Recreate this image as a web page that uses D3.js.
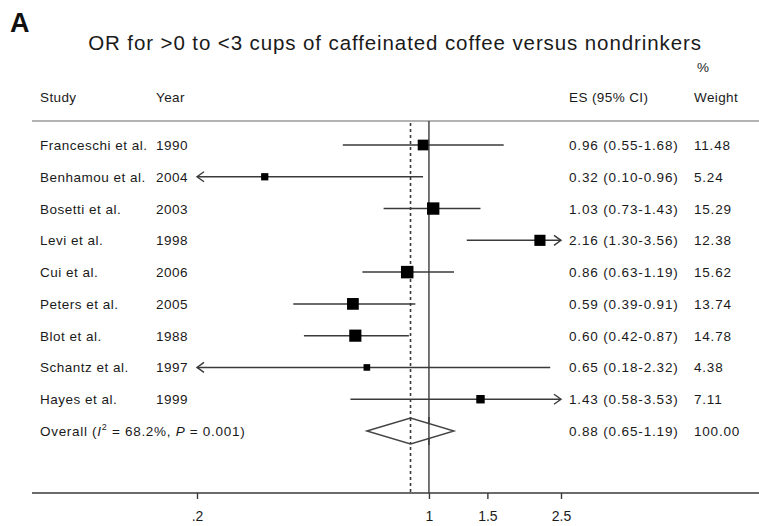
<!DOCTYPE html>
<html><head><meta charset="utf-8">
<script src="https://cdnjs.cloudflare.com/ajax/libs/d3/7.8.5/d3.min.js"></script>
<style>
html,body{margin:0;padding:0;background:#fff;}
svg{display:block;font-family:"Liberation Sans",Arial,sans-serif;}
</style></head>
<body>
<svg id="chart" width="759" height="526"></svg>
<script>
const studies = ["Franceschi et al.","Benhamou et al.","Bosetti et al.","Levi et al.","Cui et al.","Peters et al.","Blot et al.","Schantz et al.","Hayes et al."];
const years = ["1990","2004","2003","1998","2006","2005","1988","1997","1999"];
const es = [0.96,0.32,1.03,2.16,0.86,0.59,0.60,0.65,1.43];
const lo = [0.55,0.10,0.73,1.30,0.63,0.39,0.42,0.18,0.58];
const hi = [1.68,0.96,1.43,3.56,1.19,0.91,0.87,2.32,3.53];
const weights = [11.48,5.24,15.29,12.38,15.62,13.74,14.78,4.38,7.11];
const overall = {es:0.88, lo:0.65, hi:1.19, weight:100.00, i2:"68.2%", p:"0.001"};
const tickValues = [0.2,1,1.5,2.5];
const tickLabels = [".2","1","1.5","2.5"];
const title = "OR for >0 to <3 cups of caffeinated coffee versus nondrinkers";

const svg = d3.select("#chart");
const x = d3.scaleLog().domain([0.2,2.5]).range([197,561]);
const y = d3.scaleLinear().domain([0,9]).range([145,431]);
const box = d3.scaleSqrt().domain([0,15.62]).range([0,12.5]);
const fmt = d3.format(".2f");
const axisY = 493, topY = 121;
const txt = "#1a1a1a", ln = "#3a3a3a";

svg.append("text").attr("x",10).attr("y",32).attr("font-size",27).attr("font-weight","bold").attr("fill","#111").text("A");
svg.append("text").attr("x",395).attr("y",50).attr("text-anchor","middle").attr("font-size",20.5).attr("letter-spacing",0.9).attr("fill",txt).text(title);

const hdr = svg.append("g").attr("font-size",13.5).attr("fill",txt).attr("letter-spacing",0.4);
hdr.append("text").attr("x",40).attr("y",102).text("Study");
hdr.append("text").attr("x",156).attr("y",102).text("Year");
hdr.append("text").attr("x",569).attr("y",102).text("ES (95% CI)");
hdr.append("text").attr("x",697).attr("y",72).text("%");
hdr.append("text").attr("x",694).attr("y",102).text("Weight");

svg.append("line").attr("x1",32).attr("x2",759).attr("y1",topY).attr("y2",topY).attr("stroke","#9a9a9a").attr("stroke-width",1.6);

// reference lines
svg.append("line").attr("x1",x(1)).attr("x2",x(1)).attr("y1",topY).attr("y2",axisY).attr("stroke",ln).attr("stroke-width",1.4);
svg.append("line").attr("x1",x(overall.es)).attr("x2",x(overall.es)).attr("y1",topY+2).attr("y2",axisY).attr("stroke",ln).attr("stroke-width",1.6).attr("stroke-dasharray","3,3");

// rows
const rows = svg.append("g").attr("font-size",13.5).attr("fill",txt).attr("letter-spacing",0.5);
studies.forEach((s,i)=>{
  const yy = y(i);
  rows.append("text").attr("x",40).attr("y",yy+5).text(s);
  rows.append("text").attr("x",156).attr("y",yy+5).text(years[i]);
  rows.append("text").attr("x",569).attr("y",yy+5).attr("letter-spacing",0.85).text(`${fmt(es[i])} (${fmt(lo[i])}-${fmt(hi[i])})`);
  rows.append("text").attr("x",694).attr("y",yy+5).attr("letter-spacing",0.8).text(fmt(weights[i]));
  const [d0,d1] = x.domain();
  const l = Math.max(lo[i],d0), h = Math.min(hi[i],d1);
  svg.append("line").attr("x1",x(l)).attr("x2",x(h)).attr("y1",yy).attr("y2",yy).attr("stroke",ln).attr("stroke-width",1.5);
  if (lo[i] < d0) {
    const ax = x(d0);
    svg.append("path").attr("d",`M${ax+7},${yy-5}L${ax},${yy}L${ax+7},${yy+5}`).attr("fill","none").attr("stroke",ln).attr("stroke-width",1.4);
  }
  if (hi[i] > d1) {
    const ax = x(d1);
    svg.append("path").attr("d",`M${ax-7},${yy-5}L${ax},${yy}L${ax-7},${yy+5}`).attr("fill","none").attr("stroke",ln).attr("stroke-width",1.4);
  }
  const b = box(weights[i]);
  svg.append("rect").attr("x",x(es[i])-b/2).attr("y",yy-b/2).attr("width",b).attr("height",b).attr("fill","#000");
});

// overall
const oy = y(9);
const ot = rows.append("text").attr("x",40).attr("y",oy+5).attr("letter-spacing",0.7);
ot.append("tspan").text("Overall  (");
ot.append("tspan").attr("font-style","italic").text("I");
ot.append("tspan").attr("font-size",9).attr("dy",-6).text("2");
ot.append("tspan").attr("dy",6).text(" = " + overall.i2 + ", ");
ot.append("tspan").attr("font-style","italic").text("P");
ot.append("tspan").text(" = " + overall.p + ")");
rows.append("text").attr("x",569).attr("y",oy+5).attr("letter-spacing",0.85).text(`${fmt(overall.es)} (${fmt(overall.lo)}-${fmt(overall.hi)})`);
rows.append("text").attr("x",694).attr("y",oy+5).attr("letter-spacing",0.8).text(fmt(overall.weight));
svg.append("path").attr("d",`M${x(overall.lo)},${oy}L${x(overall.es)},${oy-13}L${x(overall.hi)},${oy}L${x(overall.es)},${oy+13}Z`).attr("fill","#fff").attr("stroke","#444").attr("stroke-width",1.4);
// redraw reference lines over diamond
svg.append("line").attr("x1",x(overall.es)).attr("x2",x(overall.es)).attr("y1",oy-13).attr("y2",oy+13).attr("stroke",ln).attr("stroke-width",1.6).attr("stroke-dasharray","3,3");
svg.append("line").attr("x1",x(1)).attr("x2",x(1)).attr("y1",oy-14).attr("y2",oy+14).attr("stroke",ln).attr("stroke-width",1.4);

// axis
svg.append("line").attr("x1",32).attr("x2",759).attr("y1",axisY).attr("y2",axisY).attr("stroke",ln).attr("stroke-width",1.5);
const axis = d3.axisBottom(x).tickValues(tickValues).tickFormat((d,i)=>tickLabels[i]).tickSize(6).tickPadding(12).tickSizeOuter(0);
const ag = svg.append("g").attr("transform",`translate(0,${axisY})`).call(axis);
ag.select(".domain").remove();
ag.selectAll(".tick line").attr("stroke",ln).attr("stroke-width",1.4);
ag.selectAll(".tick text").attr("font-size",14).attr("fill",txt).attr("font-family","Liberation Sans, Arial, sans-serif");
</script>
</body></html>
